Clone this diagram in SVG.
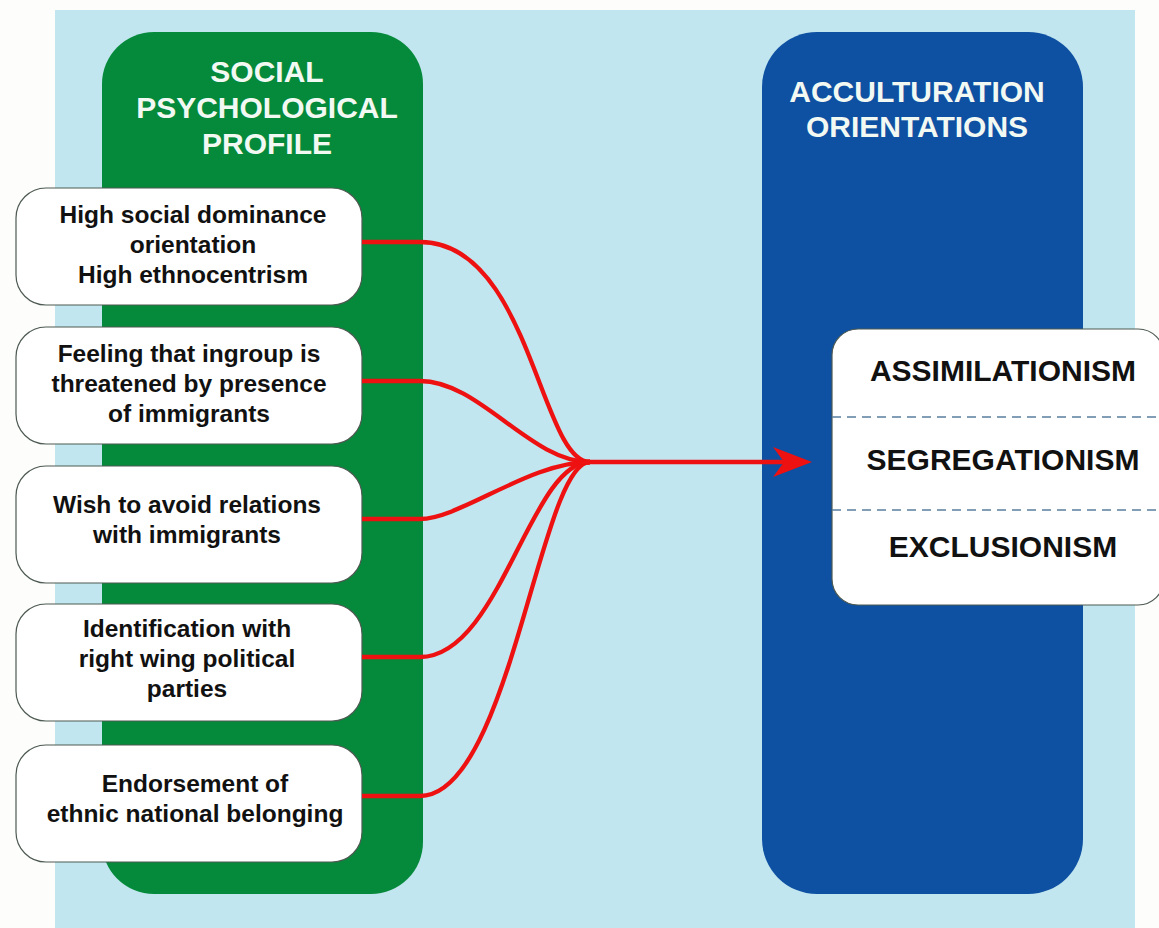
<svg xmlns="http://www.w3.org/2000/svg" width="1159" height="928" viewBox="0 0 1159 928">
<style>
.t{font-family:"Liberation Sans",Arial,sans-serif;font-weight:bold;text-anchor:middle}
.title{font-size:30px;fill:#f2f8f2}
.lbl{font-size:24.5px;fill:#111}
.big{font-size:30px;fill:#111}
.box{fill:#ffffff;stroke:#4d5a52;stroke-width:1.2}
.con{fill:none;stroke:#ee1111;stroke-width:4.3}
</style>
<rect x="0" y="0" width="1159" height="928" fill="#fdfdfb"/>
<rect x="55" y="10" width="1080" height="918" fill="#c2e6ef"/>
<g id="social-psychological-profile">
<rect x="102" y="32" width="321" height="862" rx="52" fill="#058a3b"/>
<text class="t title" x="267" y="82">SOCIAL</text>
<text class="t title" x="267" y="118">PSYCHOLOGICAL</text>
<text class="t title" x="267" y="154">PROFILE</text>
</g>
<g id="acculturation-orientations">
<rect x="762" y="32" width="321" height="862" rx="55" fill="#0e50a2"/>
<text class="t title" x="917" y="102">ACCULTURATION</text>
<text class="t title" x="917" y="137">ORIENTATIONS</text>
</g>
<g id="node-1">
<rect class="box" x="16" y="188" width="346" height="117" rx="30"/>
<text class="t lbl" x="193" y="223">High social dominance</text>
<text class="t lbl" x="193" y="253">orientation</text>
<text class="t lbl" x="193" y="283">High ethnocentrism</text>
</g>
<g id="node-2">
<rect class="box" x="16" y="327" width="346" height="117" rx="30"/>
<text class="t lbl" x="189" y="362">Feeling that ingroup is</text>
<text class="t lbl" x="189" y="392">threatened by presence</text>
<text class="t lbl" x="189" y="422">of immigrants</text>
</g>
<g id="node-3">
<rect class="box" x="16" y="466" width="346" height="117" rx="30"/>
<text class="t lbl" x="187" y="513">Wish to avoid relations</text>
<text class="t lbl" x="187" y="543">with immigrants</text>
</g>
<g id="node-4">
<rect class="box" x="16" y="604" width="346" height="117" rx="30"/>
<text class="t lbl" x="187" y="637">Identification with</text>
<text class="t lbl" x="187" y="667">right wing political</text>
<text class="t lbl" x="187" y="697">parties</text>
</g>
<g id="node-5">
<rect class="box" x="16" y="745" width="346" height="117" rx="30"/>
<text class="t lbl" x="195" y="792">Endorsement of</text>
<text class="t lbl" x="195" y="822">ethnic national belonging</text>
</g>
<g id="orientations-box">
<rect class="box" x="832" y="329" width="332" height="276" rx="26"/>
<line x1="832" y1="417" x2="1159" y2="417" stroke="#5a7d9e" stroke-width="1.3" stroke-dasharray="9,6"/>
<line x1="832" y1="510" x2="1159" y2="510" stroke="#5a7d9e" stroke-width="1.3" stroke-dasharray="9,6"/>
<text class="t big" x="1003" y="381">ASSIMILATIONISM</text>
<text class="t big" x="1003" y="470">SEGREGATIONISM</text>
<text class="t big" x="1003" y="557">EXCLUSIONISM</text>
</g>
<g id="connectors">
<path class="con" d="M362,242 H420 C530,242 540,462 590,462"/>
<path class="con" d="M362,381 H420 C480,381 530,462 590,462"/>
<path class="con" d="M362,519 H420 C460,519 530,462 590,462"/>
<path class="con" d="M362,657 H420 C500,657 530,462 590,462"/>
<path class="con" d="M362,796 H420 C510,796 540,462 590,462"/>
<path class="con" d="M580,462 H790"/>
<path d="M812,462 L773,447 L784,462 L773,477 Z" fill="#ee1111"/>
</g>
</svg>
